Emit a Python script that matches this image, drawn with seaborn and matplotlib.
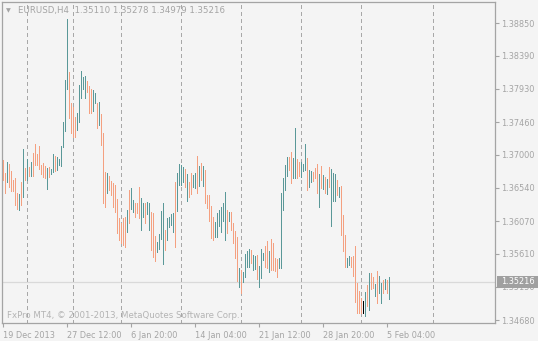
import matplotlib
matplotlib.use("Agg")
import matplotlib.pyplot as plt
from matplotlib.patches import Rectangle
import pandas as pd
import seaborn as sns

# ---------------- data (EURUSD H4 bars: high / low / direction) ----------------
highs = [
    1.36927, 1.36744, 1.36899, 1.36870, 1.36772, 1.36646, 1.36674, 1.36463, 1.36449, 1.36618,
    1.37081, 1.36814, 1.36941, 1.36828, 1.36899, 1.37025, 1.37151, 1.37011, 1.37123, 1.36856,
    1.36884, 1.36842, 1.36814, 1.36828, 1.36800, 1.37011, 1.36983, 1.36969, 1.36941, 1.37123,
    1.37460, 1.38050, 1.38906, 1.38162, 1.37727, 1.37671, 1.37530, 1.37587, 1.37980, 1.38176,
    1.38092, 1.38106, 1.38036, 1.37966, 1.37923, 1.37909, 1.37867, 1.37727, 1.37741,
    1.37572, 1.37306, 1.36758, 1.36744, 1.36702, 1.36632, 1.36604, 1.36576, 1.36379, 1.36112,
    1.36042, 1.36112, 1.36126, 1.36225, 1.36505, 1.36533, 1.36365, 1.36323, 1.36323, 1.36548,
    1.36393, 1.36323, 1.36323, 1.36337, 1.36323, 1.36197, 1.36183, 1.35860, 1.35775, 1.35888,
    1.36211, 1.36323, 1.35944, 1.36112, 1.36126, 1.36168, 1.36183, 1.36618, 1.36744, 1.36870,
    1.36856, 1.36828, 1.36800, 1.36730, 1.36618, 1.36744, 1.36716, 1.36744, 1.36983,
    1.36842, 1.36884, 1.36842, 1.36786, 1.36435, 1.36435, 1.36281, 1.36126, 1.36056, 1.36183,
    1.36225, 1.36267, 1.36323, 1.36477, 1.36225, 1.36197, 1.36197, 1.36042, 1.35930, 1.35846,
    1.35410, 1.35382, 1.35354, 1.35607, 1.35649, 1.35677, 1.35663, 1.35593, 1.35579, 1.35593,
    1.35438, 1.35677, 1.35621, 1.35719, 1.35789, 1.35649, 1.35817, 1.35761, 1.35551, 1.35537,
    1.35551, 1.36463, 1.36674, 1.36856, 1.36969, 1.36969, 1.37039, 1.36955, 1.37376,
    1.36941, 1.36899, 1.36899, 1.36870, 1.37151, 1.36955, 1.36786, 1.36772, 1.36758, 1.36814,
    1.36870, 1.36730, 1.36842, 1.36716, 1.36688, 1.36660, 1.36828, 1.36800, 1.36744, 1.36730,
    1.36646, 1.36548, 1.36562, 1.36154, 1.35874, 1.35551, 1.35579, 1.35565, 1.35579, 1.35719,
    1.35200, 1.35087, 1.34989, 1.34947, 1.35073, 1.35172, 1.35340, 1.35340, 1.35284, 1.35186,
    1.35368, 1.35298, 1.35200, 1.35242, 1.35256, 1.35242, 1.35278,
]
lows = [
    1.36646, 1.36463, 1.36618, 1.36548, 1.36491, 1.36491, 1.36295, 1.36239, 1.36225, 1.36295,
    1.36407, 1.36646, 1.36646, 1.36702, 1.36702, 1.36702, 1.36856, 1.36856, 1.36800, 1.36730,
    1.36688, 1.36674, 1.36519, 1.36688, 1.36730, 1.36758, 1.36772, 1.36786, 1.36856, 1.36842,
    1.37109, 1.37334, 1.37923, 1.37516, 1.37306, 1.37250, 1.37250, 1.37348, 1.37460, 1.37797,
    1.37923, 1.37797, 1.37881, 1.37587, 1.37587, 1.37615, 1.37727, 1.37376, 1.37418,
    1.37137, 1.36323, 1.36267, 1.36463, 1.36505, 1.36435, 1.36267, 1.36197, 1.35902, 1.35803,
    1.35761, 1.35733, 1.35705, 1.35916, 1.36042, 1.36239, 1.36197, 1.36126, 1.36183, 1.36112,
    1.35944, 1.36126, 1.36042, 1.36168, 1.35944, 1.35663, 1.35565, 1.35509, 1.35635, 1.35677,
    1.35817, 1.35466, 1.35663, 1.35803, 1.35986, 1.36014, 1.35916, 1.35705, 1.36211, 1.36576,
    1.36576, 1.36618, 1.36548, 1.36351, 1.36407, 1.36449, 1.36548, 1.36533, 1.36463,
    1.36562, 1.36646, 1.36562, 1.36323, 1.36253, 1.36070, 1.35832, 1.35803, 1.35846, 1.35846,
    1.36000, 1.35916, 1.36070, 1.35803, 1.35902, 1.36070, 1.35944, 1.35761, 1.35551, 1.35228,
    1.35144, 1.35059, 1.35214, 1.35284, 1.35424, 1.35424, 1.35481, 1.35382, 1.35396, 1.35256,
    1.35144, 1.35270, 1.35523, 1.35424, 1.35410, 1.35354, 1.35382, 1.35382, 1.35368, 1.35284,
    1.35410, 1.35410, 1.36225, 1.36505, 1.36702, 1.36786, 1.36604, 1.36674, 1.36674,
    1.36674, 1.36702, 1.36688, 1.36772, 1.36786, 1.36505, 1.36548, 1.36618, 1.36632, 1.36674,
    1.36463, 1.36267, 1.36533, 1.36519, 1.36463, 1.36449, 1.36548, 1.36000, 1.36351, 1.36351,
    1.36435, 1.36407, 1.35874, 1.35649, 1.35424, 1.35424, 1.35452, 1.35424, 1.35298, 1.34933,
    1.34779, 1.34779, 1.34779, 1.34779, 1.34736, 1.34877, 1.34821, 1.35115, 1.35129, 1.35017,
    1.34919, 1.35059, 1.34919, 1.35059, 1.35115, 1.35059, 1.34979,
]
directions = list(
    "ddudddddud" "udududdddd" "ddudu" "uduuu" "uuudddduuu" "uuddduudud"
    "dduddddddd" "ddudu" "udddu" "udu" "uddduuu" "uduuuudu" "uuududduudu"
    "duddddduu" "uuuududddd" "uduuuuduud" "uuuddudddd" "uuuuudduu"
    "dduuuduudd" "dudududuuu" "duddduuddd" "dddnududdu" "duududu"
)

tick_pos = [0, 32, 64, 96, 128, 160, 192]
tick_labels = ["19 Dec 2013", "27 Dec 12:00", "6 Jan 20:00", "14 Jan 04:00",
               "21 Jan 12:00", "28 Jan 20:00", "5 Feb 04:00"]
separators = [12, 35, 59, 89, 119, 149, 179, 215]
y_ticks = [1.38850, 1.38390, 1.37930, 1.37460, 1.37000, 1.36540, 1.36070,
           1.35610, 1.35150, 1.34680]
symbol = "EURUSD,H4"
ohlc = [1.35110, 1.35278, 1.34979, 1.35216]
last_price = 1.35216

# ---------------- styling ----------------
BG = "#F4F4F4"
FG = "#A4A4A4"
UP = "#5A9898"
DOWN = "#F4A080"
PAL = {"u": UP, "d": DOWN, "n": "#000000"}

sns.set_theme(style="white")
plt.rcParams["font.family"] = ["DejaVu Sans"]

W, H = 538, 341
fig = plt.figure(figsize=(W / 100, H / 100), dpi=100, facecolor=BG)
ax = fig.add_axes([2 / W, (H - 323) / H, (495 - 2) / W, (323 - 2) / H])
ax.set_facecolor(BG)

n = min(len(highs), len(lows), len(directions))
rows = []
for i in range(n):
    rows.append({"idx": i, "price": highs[i], "bar": i, "dir": directions[i]})
    rows.append({"idx": i, "price": lows[i], "bar": i, "dir": directions[i]})
df = pd.DataFrame(rows)

# current price line (behind bars)
ax.axhline(last_price, color="#D9D9D9", lw=0.9, zorder=0)

sns.lineplot(data=df, x="idx", y="price", units="bar", estimator=None,
             hue="dir", palette=PAL, legend=False, lw=0.5, sort=False,
             antialiased=False, ax=ax, zorder=3)

for s in separators:
    ax.axvline(s, color="#A8A8A8", lw=0.5, ls=(0, (4.5, 4.5)), zorder=2,
               antialiased=False)

ax.set_xlim(-0.5, 246)
ax.set_ylim(1.34638, 1.39145)
ax.set_xlabel("")
ax.set_ylabel("")

ax.yaxis.tick_right()
ax.set_yticks(y_ticks)
ax.set_yticklabels([f"{v:.5f}" for v in y_ticks])
ax.set_xticks(tick_pos)
ax.set_xticklabels(tick_labels)
for lbl in ax.get_xticklabels():
    lbl.set_ha("left")
ax.tick_params(axis="both", colors=FG, labelcolor=FG, labelsize=5.9,
               length=3, width=0.8, direction="out")
ax.tick_params(axis="y", pad=1.5)
ax.tick_params(axis="x", pad=2.5, bottom=True)
for sp in ax.spines.values():
    sp.set_visible(True)
    sp.set_color(FG)
    sp.set_linewidth(0.9)

# current price box on the axis
fig.patches.append(Rectangle((497 / W, (H - 288) / H), 41 / W, 12 / H,
                             transform=fig.transFigure, facecolor="#A0A0A0",
                             edgecolor="none", zorder=5))
fig.text(501 / W, (H - 282) / H, f"{last_price:.5f}", color="white",
         fontsize=5.9, va="center", ha="left", zorder=6)

# header
fig.text(6 / W, (H - 10.5) / H, "\u25BC", color=FG, fontsize=4.5,
         va="center", ha="left")
fig.text(18 / W, (H - 10.5) / H,
         symbol + "  " + " ".join(f"{v:.5f}" for v in ohlc),
         color=FG, fontsize=6.2, va="center", ha="left")

# watermark
fig.text(7 / W, (H - 315) / H,
         "FxPro MT4, \u00A9 2001-2013, MetaQuotes Software Corp.",
         color="#B4B4B4", fontsize=6.2, va="center", ha="left")

fig.savefig("out.png", dpi=100, facecolor=BG)
